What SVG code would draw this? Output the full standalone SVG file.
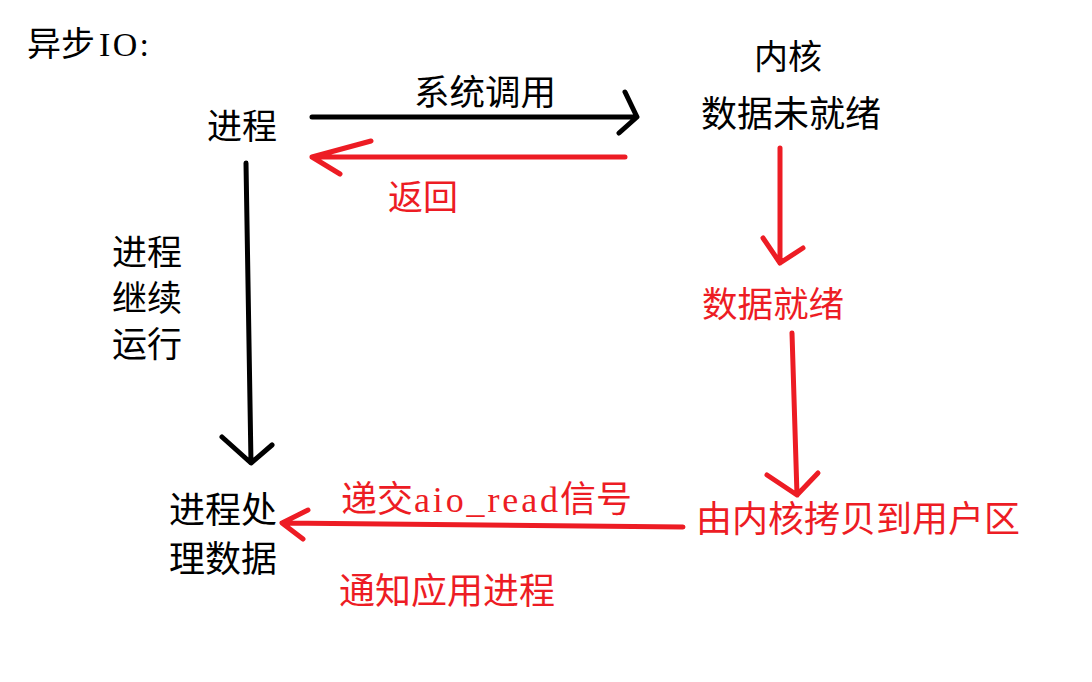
<svg xmlns="http://www.w3.org/2000/svg" width="1092" height="682" viewBox="0 0 1092 682">
<style>
  text { font-family: "Noto Sans CJK SC", "Liberation Serif", serif; font-size: 36px; }
  .k { fill: #000; }
  .r { fill: #ED1C24; }
  .lat { font-family: "Liberation Serif", "Noto Sans CJK SC", serif; }
  .ck { fill: none; stroke: #000; stroke-width: 5; stroke-linecap: round; stroke-linejoin: round; }
  .cr { fill: none; stroke: #ED1C24; stroke-width: 5; stroke-linecap: round; stroke-linejoin: round; }
</style>
<rect width="1092" height="682" fill="#fff"/>
<g id="title"><text class="k" x="27" y="56" style="font-size:34px">异步<tspan class="lat" x="99" textLength="50">IO:</tspan></text></g>
<g id="process"><text class="k" x="207" y="139" style="font-size:35px">进程</text></g>
<g id="syscall-label"><text class="k" x="414" y="105" style="font-size:35.5px">系统调用</text></g>
<g id="return-label"><text class="r" x="388" y="210" style="font-size:35px">返回</text></g>
<g id="kernel"><text class="k" x="754" y="69" style="font-size:34px">内核</text></g>
<g id="data-not-ready"><text class="k" x="701" y="127">数据未就绪</text></g>
<g id="continue-label"><text class="k" style="font-size:35px"><tspan x="112" y="265">进程</tspan><tspan x="112" y="311">继续</tspan><tspan x="112" y="357">运行</tspan></text></g>
<g id="data-ready"><text class="r" x="702" y="317" style="font-size:35.5px">数据就绪</text></g>
<g id="copy-to-user"><text class="r" x="696" y="532">由内核拷贝到用户区</text></g>
<g id="process-data"><text class="k"><tspan x="169" y="523">进程处</tspan><tspan x="169" y="572">理数据</tspan></text></g>
<g id="signal-label"><text class="r" x="341" y="512">递交<tspan class="lat" x="414" textLength="144">aio_read</tspan><tspan x="560">信号</tspan></text></g>
<g id="notify-label"><text class="r" x="339" y="604">通知应用进程</text></g>
<g id="connectors">
  <path class="ck" d="M312 117 L636 117 M625 92 L637 117 L619 133"/>
  <path class="cr" d="M625 157 L312 157 M371 141 L312 157 L340 174"/>
  <path class="ck" d="M246 163 L251 463 M222 437 L251 463 L272 445"/>
  <path class="cr" d="M780 148 L780 263 M763 238 L780 263 L803 248"/>
  <path class="cr" d="M792 333 L797 495 M767 475 L797 495 L818 473"/>
  <path class="cr" d="M683 527 L282 523 M308 510 L282 523 L303 539"/>
</g>
</svg>
